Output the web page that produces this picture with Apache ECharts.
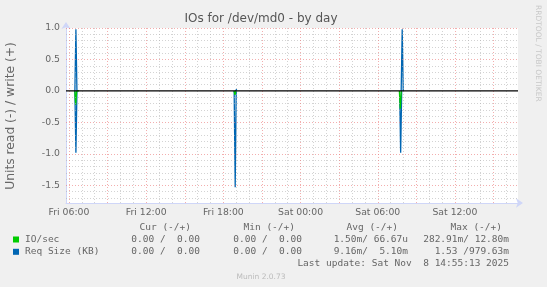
<!DOCTYPE html>
<html><head><meta charset="utf-8">
<script src="https://cdn.jsdelivr.net/npm/echarts@6/dist/echarts.min.js"></script>
<style>html,body{margin:0;padding:0;background:#F0F0F0}#c{width:547px;height:287px}</style>
</head><body><div id="c"></div><script>
// x values are hours since Fri 00:00
const xMin = 5.77, xMax = 40.9;
const yMin = -1.78, yMax = 1.0;
const xLabelHours = [6, 12, 18, 24, 30, 36];
const xLabelTexts = ['Fri 06:00', 'Fri 12:00', 'Fri 18:00', 'Sat 00:00', 'Sat 06:00', 'Sat 12:00'];
const yLabelValues = [-1.5, -1.0, -0.5, 0.0, 0.5, 1.0];
const majorXHours = [6, 9, 12, 15, 18, 21, 24, 27, 30, 33, 36, 39];
const minorXHours = [7, 8, 10, 11, 13, 14, 16, 17, 19, 20, 22, 23, 25, 26, 28, 29, 31, 32, 34, 35, 37, 38, 40];
const majorYValues = [-1.5, -1.0, -0.5, 0.5, 1.0];
const minorYValues = [-1.7, -1.6, -1.4, -1.3, -1.2, -1.1, -0.9, -0.8, -0.7, -0.6, -0.4, -0.3, -0.2, -0.1,
  0.1, 0.2, 0.3, 0.4, 0.6, 0.7, 0.8, 0.9];

// series: [hour, value]; read values are drawn negative; all other samples are 0 (under the black zero line)
const ioRead = [[6.46, 0], [6.52, -0.22], [6.6, 0], [12, '-'], [18.83, 0], [18.9, -0.06], [18.98, 0], [25, '-'],
  [31.68, 0], [31.75, -0.283], [31.83, 0]];
const ioWrite = [[6.63, 0], [6.7, 0.0128], [6.78, 0]];
const reqRead = [[6.46, 0], [6.54, -0.98], [6.62, 0], [12, '-'], [18.84, 0], [18.92, -1.53], [19.0, 0], [25, '-'],
  [31.7, 0], [31.78, -0.98], [31.86, 0]];
const reqWrite = [[6.46, 0], [6.54, 0.98], [6.62, 0], [12, '-'], [18.96, 0], [19.03, 0.03], [19.1, 0], [25, '-'],
  [31.82, 0], [31.9, 0.98], [31.98, 0]];
const zeroLine = [[5.77, 0], [40.9, 0]];

const legendHeader = ['Cur (-/+)', 'Min (-/+)', 'Avg (-/+)', 'Max (-/+)'];
const legendRows = [
  { name: 'IO/sec', color: '#00CC00', cur: '0.00 /  0.00', min: '0.00 /  0.00', avg: '1.50m/ 66.67u', max: '282.91m/ 12.80m' },
  { name: 'Req Size (KB)', color: '#0066B3', cur: '0.00 /  0.00', min: '0.00 /  0.00', avg: '9.16m/  5.10m', max: '1.53 /979.63m' }
];
const lastUpdate = 'Last update: Sat Nov  8 14:55:13 2025';

const FONT = '"DejaVu Sans", sans-serif';
const MONO = '"DejaVu Sans Mono", monospace';
const TXT = '#666666';
const GRID = 'rgba(175,175,175,0.55)';
const MGRID = 'rgba(235,120,120,0.6)';

function ml(items, key, color) {
  return items.map(v => ({ [key]: v, lineStyle: { color: color, type: [1, 2], width: 1 } }));
}

const chart = echarts.init(document.getElementById('c'), null, { renderer: 'canvas', width: 547, height: 287 });

const graphic = [
  { type: 'text', x: 261, y: 19, style: { text: 'IOs for /dev/md0 - by day', font: '12px ' + FONT, fill: '#555', align: 'center', verticalAlign: 'middle' } },
  { type: 'text', x: 11, y: 116, rotation: Math.PI / 2, style: { text: 'Units read (-) / write (+)', font: '12.3px ' + FONT, fill: TXT, align: 'center', verticalAlign: 'middle' } },
  { type: 'text', x: 538, y: 5, rotation: -Math.PI / 2, style: { text: 'RRDTOOL / TOBI OETIKER', font: '7.5px ' + FONT, fill: '#C8C8C8', align: 'left', verticalAlign: 'middle' } },
  { type: 'text', x: 261, y: 277, style: { text: 'Munin 2.0.73', font: '7.5px ' + FONT, fill: '#BBBBBB', align: 'center', verticalAlign: 'middle' } },
  { type: 'text', x: 509, y: 264, style: { text: lastUpdate, font: '9.5px ' + MONO, fill: TXT, align: 'right', verticalAlign: 'middle' } }
];
const headerRight = [191, 295, 398, 502];
legendHeader.forEach((h, i) => graphic.push({ type: 'text', x: headerRight[i], y: 228, style: { text: h, font: '9.5px ' + MONO, fill: TXT, align: 'right', verticalAlign: 'middle' } }));
const colRight = [200, 302, 408, 509];
legendRows.forEach((r, k) => {
  const y = 239.5 + k * 12.3;
  graphic.push({ type: 'rect', shape: { x: 13, y: y - 3, width: 6, height: 6 }, style: { fill: r.color } });
  graphic.push({ type: 'text', x: 25, y: y, style: { text: r.name, font: '9.5px ' + MONO, fill: TXT, align: 'left', verticalAlign: 'middle' } });
  [r.cur, r.min, r.avg, r.max].forEach((t, i) => graphic.push({ type: 'text', x: colRight[i], y: y, style: { text: t, font: '9.5px ' + MONO, fill: TXT, align: 'right', verticalAlign: 'middle' } }));
});

function lineSeries(name, data, color, z, w) {
  return { name, type: 'line', data, connectNulls: false, showSymbol: false, symbol: 'none', z, lineStyle: { color, width: w || 1.3 }, itemStyle: { color }, silent: true, animation: false };
}

chart.setOption({
  backgroundColor: '#F0F0F0',
  animation: false,
  graphic: graphic,
  grid: { left: 66, top: 28, right: 29, bottom: 84, show: true, backgroundColor: '#FFFFFF', borderWidth: 0 },
  xAxis: {
    type: 'value', min: xMin, max: xMax,
    axisLine: { show: true, onZero: false, lineStyle: { color: '#CFD6F8', width: 1 }, symbol: ['none', 'arrow'], symbolSize: [7, 7], symbolOffset: [0, 5] },
    axisTick: { show: false }, splitLine: { show: false },
    axisLabel: { customValues: xLabelHours, formatter: v => xLabelTexts[xLabelHours.indexOf(v)], color: TXT, fontFamily: 'DejaVu Sans', fontSize: 9.3, margin: 5 }
  },
  yAxis: {
    type: 'value', min: yMin, max: yMax,
    axisLine: { show: true, onZero: false, lineStyle: { color: '#CFD6F8', width: 1 }, symbol: ['none', 'arrow'], symbolSize: [7, 7], symbolOffset: [0, 6] },
    axisTick: { show: false }, splitLine: { show: false },
    axisLabel: { customValues: yLabelValues, formatter: v => v.toFixed(1), color: TXT, fontFamily: 'DejaVu Sans', fontSize: 9.3, margin: 6 }
  },
  series: [
    {
      type: 'line', data: [], z: 1, silent: true,
      markLine: {
        silent: true, symbol: 'none', label: { show: false }, animation: false,
        data: [].concat(ml(minorXHours, 'xAxis', GRID), ml(minorYValues, 'yAxis', GRID), ml(majorXHours, 'xAxis', MGRID), ml(majorYValues, 'yAxis', MGRID))
      }
    },
    lineSeries('Req Size (KB) read', reqRead, '#0066B3', 3),
    lineSeries('Req Size (KB) write', reqWrite, '#0066B3', 3),
    lineSeries('IO/sec read', ioRead, '#00CC00', 4),
    lineSeries('IO/sec write', ioWrite, '#00CC00', 4),
    lineSeries('zero', zeroLine, '#000000', 10, 1.2)
  ]
});
</script></body></html>
